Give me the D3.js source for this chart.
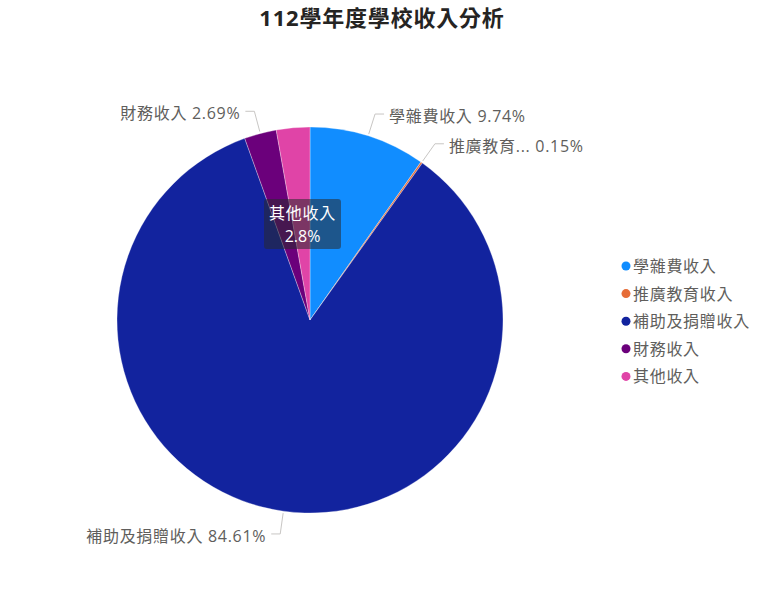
<!DOCTYPE html>
<html>
<head>
<meta charset="utf-8">
<script src="https://cdn.jsdelivr.net/npm/d3@7"></script>
<style>
  body { margin: 0; background: #fff; }
  svg { display: block; font-family: "Segoe UI", "Open Sans", "Noto Sans CJK TC", sans-serif; }
</style>
</head>
<body>
<div id="chart-container"></div>
<script>
// Data
const categories = ["學雜費收入", "推廣教育收入", "補助及捐贈收入", "財務收入", "其他收入"];
const shares = [9.74, 0.15, 84.61, 2.69, 2.80];
const labelTexts = ["學雜費收入 9.74%", "推廣教育... 0.15%", "補助及捐贈收入 84.61%", "財務收入 2.69%", null];
const colors = ["#118DFF", "#E66C37", "#12239E", "#6B007B", "#E044A7"];
const tooltipIndex = 4;

function createChart() {
  const width = 761;
  const height = 616;
  const cx = 310, cy = 320, radius = 193;

  const data = categories.map((name, i) => ({ name, value: shares[i], label: labelTexts[i], color: colors[i] }));

  const svg = d3.create("svg")
      .attr("width", width)
      .attr("height", height)
      .attr("viewBox", `0 0 ${width} ${height}`);

  // Title
  svg.append("text")
      .attr("x", 382)
      .attr("y", 17)
      .attr("text-anchor", "middle")
      .attr("dominant-baseline", "central")
      .style("font-size", "22px")
      .style("font-weight", "bold")
      .style("letter-spacing", "0.8px")
      .style("fill", "#252423")
      .text("112學年度學校收入分析");

  // Pie layout, clockwise from 12 o'clock, no sorting
  const pie = d3.pie().sort(null).value(d => d.value);
  const arcs = pie(data);
  const arc = d3.arc().innerRadius(0).outerRadius(radius);

  const g = svg.append("g").attr("transform", `translate(${cx},${cy})`);

  g.selectAll("path")
    .data(arcs)
    .join("path")
      .attr("d", arc)
      .attr("fill", d => d.data.color)
      .attr("stroke", "#fff")
      .attr("stroke-opacity", 0.5)
      .attr("stroke-width", 0.6);

  // Data labels with leader lines
  const startArc = d3.arc().innerRadius(radius + 2).outerRadius(radius + 2);
  const elbowArc = d3.arc().innerRadius(216).outerRadius(216);

  const labeled = arcs.filter(d => d.data.label);
  const lbl = g.append("g");

  labeled.forEach(d => {
    const p0 = startArc.centroid(d);
    const p1 = elbowArc.centroid(d);
    const mid = (d.startAngle + d.endAngle) / 2;
    const right = mid < Math.PI;
    const p2 = [p1[0] + (right ? 9 : -9), p1[1]];

    lbl.append("polyline")
        .attr("points", [p0, p1, p2].map(p => p.join(",")).join(" "))
        .attr("fill", "none")
        .attr("stroke", "#c8c6c4")
        .attr("stroke-width", 1);

    lbl.append("text")
        .attr("x", p2[0] + (right ? 5 : -5))
        .attr("y", p2[1] + 2)
        .attr("text-anchor", right ? "start" : "end")
        .attr("dominant-baseline", "central")
        .style("font-size", "16px")
        .style("letter-spacing", "0.7px")
        .style("fill", "#605E5C")
        .text(d.data.label);
  });

  // Tooltip over the 其他收入 slice
  const tip = svg.append("g").attr("transform", "translate(264,199)");
  tip.append("rect")
      .attr("width", 77)
      .attr("height", 50)
      .attr("rx", 3)
      .attr("fill", "rgb(40,42,46)")
      .attr("fill-opacity", 0.55);
  tip.append("text")
      .attr("x", 38.5)
      .attr("y", 14)
      .attr("text-anchor", "middle")
      .attr("dominant-baseline", "central")
      .style("font-size", "16px")
      .style("letter-spacing", "0.7px")
      .style("fill", "#fff")
      .text(data[tooltipIndex].name);
  tip.append("text")
      .attr("x", 38.5)
      .attr("y", 37)
      .attr("text-anchor", "middle")
      .attr("dominant-baseline", "central")
      .style("font-size", "16px")
      .style("fill", "#fff")
      .text(d3.format(".1f")(data[tooltipIndex].value) + "%");

  // Legend
  const legend = svg.append("g")
    .selectAll("g")
    .data(data)
    .join("g")
      .attr("transform", (d, i) => `translate(626,${266 + i * 27.6})`);

  legend.append("circle")
      .attr("r", 4.5)
      .attr("fill", d => d.color);

  legend.append("text")
      .attr("x", 7)
      .attr("dominant-baseline", "central")
      .style("font-size", "16px")
      .style("letter-spacing", "0.7px")
      .style("fill", "#605E5C")
      .text(d => d.name);

  return svg.node();
}

document.getElementById("chart-container").appendChild(createChart());
</script>
</body>
</html>
